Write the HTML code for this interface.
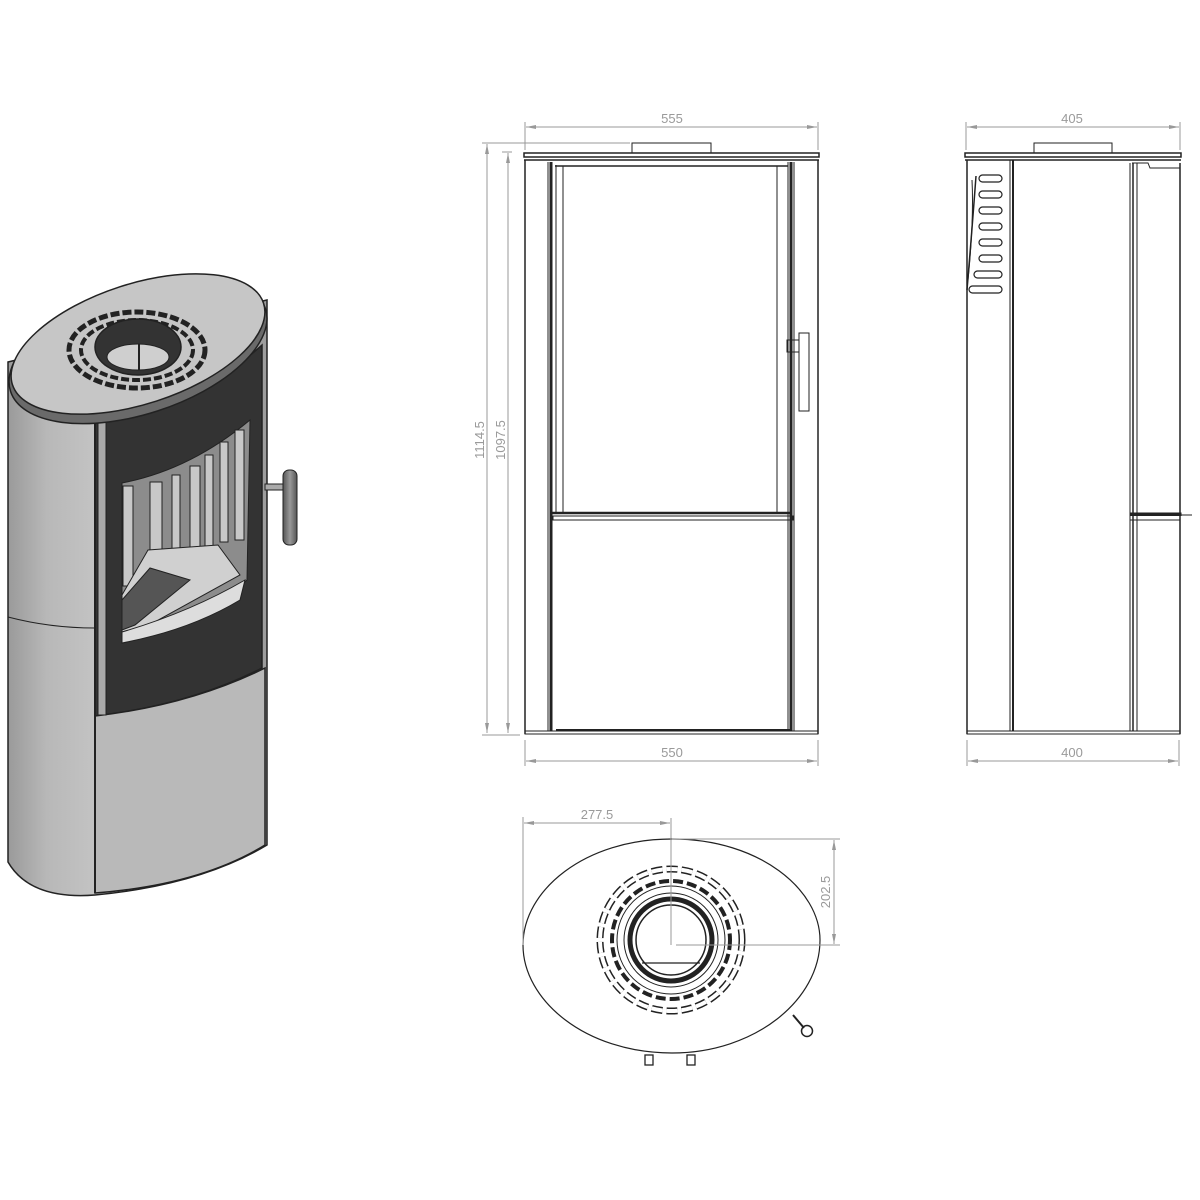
<!DOCTYPE html>
<html><head><meta charset="utf-8"><style>
html,body{margin:0;padding:0;background:#fff}
svg{display:block}
text{font-family:"Liberation Sans",sans-serif;fill:#9a9a9a;font-size:13px}
</style></head><body>
<svg width="1200" height="1200" viewBox="0 0 1200 1200" xmlns="http://www.w3.org/2000/svg">
<defs>
<linearGradient id="cyl" x1="0" x2="1" y1="0" y2="0">
<stop offset="0" stop-color="#9a9a9a"/><stop offset="0.15" stop-color="#b8b8b8"/><stop offset="0.35" stop-color="#c4c4c4"/><stop offset="0.7" stop-color="#bdbdbd"/><stop offset="1" stop-color="#9c9c9c"/>
</linearGradient>
<linearGradient id="handle" x1="0" x2="1"><stop offset="0" stop-color="#555"/><stop offset="0.5" stop-color="#999"/><stop offset="1" stop-color="#555"/></linearGradient>
<marker id="ar" viewBox="0 0 10 6" refX="10" refY="3" markerWidth="10" markerHeight="6" orient="auto-start-reverse"><path d="M0,1 L10,3 L0,5z" fill="#999"/></marker>
</defs>

<!-- ===== Isometric view ===== -->
<g stroke="#222" stroke-width="1.5">
<path d="M8,362 L8,862 Q30,900 95,895 Q200,885 267,845 L267,300 Z" fill="url(#cyl)"/>
<path d="M95,420 Q190,410 262,345 L262,668 Q190,705 95,716 Z" fill="#333"/>
<path d="M95,716 Q190,705 265,668 L265,845 Q200,885 95,893 Z" fill="#b9b9b9"/>
<line x1="95" y1="410" x2="95" y2="893" stroke-width="2"/>
<path d="M8,617 Q50,628 95,628" fill="none" stroke-width="1"/>
<rect x="98" y="418" width="8" height="297" fill="#aaa" stroke-width="1"/>
<path d="M122,483 Q190,470 250,420 L247,580 Q200,625 122,643 Z" fill="#8c8c8c" stroke-width="1"/>
<g fill="#c8c8c8" stroke="#222" stroke-width="1">
<rect x="123" y="486" width="10" height="100"/><rect x="150" y="482" width="12" height="100"/>
<rect x="172" y="475" width="8" height="100"/><rect x="190" y="466" width="10" height="90"/>
<rect x="205" y="455" width="8" height="95"/><rect x="220" y="442" width="8" height="100"/>
<rect x="235" y="430" width="9" height="110"/>
</g>
<path d="M122,595 L148,550 L218,545 L240,575 L122,640 Z" fill="#d0d0d0" stroke-width="1"/>
<path d="M122,600 L150,568 L190,580 L135,625 L122,630 Z" fill="#555" stroke-width="1"/>
<path d="M122,632 Q190,612 245,580 L240,600 Q190,630 122,643 Z" fill="#ddd" stroke-width="1"/>
<ellipse cx="138" cy="350" rx="134" ry="64" transform="rotate(-18 138 350)" fill="#6a6a6a" stroke-width="1.5"/>
<ellipse cx="138" cy="344" rx="132" ry="60" transform="rotate(-18 138 344)" fill="#c6c6c6" stroke-width="1.5"/>
<ellipse cx="137" cy="350" rx="68" ry="38" fill="none" stroke="#222" stroke-width="5" stroke-dasharray="9 3"/>
<ellipse cx="137" cy="350" rx="56" ry="30" fill="none" stroke="#222" stroke-width="4" stroke-dasharray="8 3"/>
<ellipse cx="138" cy="347" rx="43" ry="28" fill="#333"/>
<ellipse cx="138" cy="357" rx="31" ry="13" fill="#cfcfcf" stroke-width="1"/>
<line x1="139" y1="344" x2="139" y2="370" stroke-width="2"/>
<rect x="265" y="484" width="20" height="6" fill="#aaa" stroke-width="1"/>
<rect x="283" y="470" width="14" height="75" rx="6" fill="url(#handle)" stroke-width="1"/>
</g>

<!-- ===== Front view ===== -->
<g stroke="#222" fill="none" stroke-width="1">
<rect x="632" y="143" width="79" height="10"/>
<rect x="524" y="153" width="295" height="4" stroke-width="1.5"/>
<line x1="524" y1="160" x2="819" y2="160" stroke-width="1.5"/>
<line x1="525" y1="160" x2="525" y2="734" stroke-width="1.5"/>
<line x1="818" y1="160" x2="818" y2="734" stroke-width="1.5"/>
<line x1="548" y1="162" x2="548" y2="731"/>
<line x1="551" y1="162" x2="551" y2="731" stroke-width="3"/>
<line x1="556" y1="165" x2="556" y2="513"/>
<line x1="563" y1="166" x2="563" y2="513"/>
<line x1="555" y1="166" x2="788" y2="166" stroke-width="1.5"/>
<line x1="777" y1="166" x2="777" y2="513"/>
<line x1="788" y1="162" x2="788" y2="731"/>
<line x1="791" y1="162" x2="791" y2="731" stroke-width="3"/>
<line x1="794" y1="162" x2="794" y2="731"/>
<line x1="552" y1="513" x2="792" y2="513" stroke-width="2.5"/>
<rect x="553" y="516" width="240" height="4"/>
<line x1="556" y1="730" x2="790" y2="730" stroke-width="2"/>
<rect x="525" y="731" width="293" height="3"/>
<rect x="787" y="340" width="12" height="12"/>
<rect x="799" y="333" width="10" height="78"/>
</g>
<g stroke="#999" stroke-width="1" fill="none">
<line x1="525" y1="122" x2="525" y2="150"/><line x1="818" y1="122" x2="818" y2="150"/>
<line x1="526" y1="127" x2="817" y2="127" marker-start="url(#ar)" marker-end="url(#ar)"/>
<line x1="482" y1="143" x2="630" y2="143"/><line x1="502" y1="152" x2="512" y2="152"/>
<line x1="487" y1="144" x2="487" y2="733" marker-start="url(#ar)" marker-end="url(#ar)"/>
<line x1="508" y1="153" x2="508" y2="733" marker-start="url(#ar)" marker-end="url(#ar)"/>
<line x1="482" y1="735" x2="520" y2="735"/>
<line x1="525" y1="740" x2="525" y2="766"/><line x1="818" y1="740" x2="818" y2="766"/>
<line x1="526" y1="761" x2="817" y2="761" marker-start="url(#ar)" marker-end="url(#ar)"/>
</g>
<text x="672" y="123" text-anchor="middle">555</text>
<text x="672" y="757" text-anchor="middle">550</text>
<text transform="translate(484 440) rotate(-90)" text-anchor="middle">1114.5</text>
<text transform="translate(505 440) rotate(-90)" text-anchor="middle">1097.5</text>

<!-- ===== Side view ===== -->
<g stroke="#222" fill="none" stroke-width="1">
<rect x="1034" y="143" width="78" height="10"/>
<rect x="965" y="153" width="216" height="4" stroke-width="1.5"/>
<line x1="965" y1="160" x2="1181" y2="160" stroke-width="1.5"/>
<line x1="967" y1="160" x2="967" y2="734" stroke-width="1.5"/>
<line x1="1010" y1="160" x2="1010" y2="731"/>
<line x1="1013" y1="160" x2="1013" y2="731" stroke-width="2"/>
<line x1="1130" y1="163" x2="1130" y2="731"/>
<line x1="1133" y1="163" x2="1133" y2="731" stroke-width="1.5"/>
<line x1="1137" y1="163" x2="1137" y2="731"/>
<line x1="1180" y1="163" x2="1180" y2="734" stroke-width="1.5"/>
<path d="M1132,163 L1148,163 L1150,168 L1180,168"/>
<rect x="1131" y="513" width="50" height="2.5" fill="#222"/>
<line x1="1181" y1="515" x2="1192" y2="515"/>
<line x1="1130" y1="520" x2="1180" y2="520"/>
<rect x="967" y="731" width="213" height="3"/>
<path d="M976,176 Q972,230 967,290" stroke-width="1.5"/>
<path d="M972,180 Q974,220 968,280"/>
<g stroke-width="1.2">
<rect x="979" y="175" width="23" height="7" rx="3.5"/>
<rect x="979" y="191" width="23" height="7" rx="3.5"/>
<rect x="979" y="207" width="23" height="7" rx="3.5"/>
<rect x="979" y="223" width="23" height="7" rx="3.5"/>
<rect x="979" y="239" width="23" height="7" rx="3.5"/>
<rect x="979" y="255" width="23" height="7" rx="3.5"/>
<rect x="974" y="271" width="28" height="7" rx="3.5"/>
<rect x="969" y="286" width="33" height="7" rx="3.5"/>
</g>
</g>
<g stroke="#999" stroke-width="1" fill="none">
<line x1="966" y1="122" x2="966" y2="150"/><line x1="1180" y1="122" x2="1180" y2="150"/>
<line x1="967" y1="127" x2="1179" y2="127" marker-start="url(#ar)" marker-end="url(#ar)"/>
<line x1="967" y1="740" x2="967" y2="766"/><line x1="1179" y1="740" x2="1179" y2="766"/>
<line x1="968" y1="761" x2="1178" y2="761" marker-start="url(#ar)" marker-end="url(#ar)"/>
</g>
<text x="1072" y="123" text-anchor="middle">405</text>
<text x="1072" y="757" text-anchor="middle">400</text>

<!-- ===== Top view ===== -->
<g stroke="#222" fill="none" stroke-width="1">
<path d="M672,839 C760,839 820,890 820,940 C820,1000 755,1053 672,1053 C585,1053 523,1000 523,945 C523,890 585,839 672,839 Z" stroke-width="1.2"/>
<circle cx="671" cy="940" r="71" stroke-width="7" stroke-dasharray="11 4"/>
<circle cx="671" cy="940" r="71" stroke="#fff" stroke-width="4" stroke-dasharray="11 4"/>
<circle cx="671" cy="940" r="59" stroke-width="4" stroke-dasharray="10 4"/>
<circle cx="671" cy="940" r="54"/>
<circle cx="671" cy="940" r="47"/>
<circle cx="671" cy="940" r="41" stroke-width="5"/>
<circle cx="671" cy="940" r="35" stroke-width="1.5"/>
<line x1="642" y1="963" x2="700" y2="963" stroke-width="1.3"/>
<line x1="793" y1="1015" x2="804" y2="1028" stroke-width="2"/>
<circle cx="807" cy="1031" r="5.5" stroke-width="1.5"/>
<rect x="645" y="1055" width="8" height="10" stroke-width="1.3"/>
<rect x="687" y="1055" width="8" height="10" stroke-width="1.3"/>
</g>
<g stroke="#999" stroke-width="1" fill="none">
<line x1="523" y1="817" x2="523" y2="945"/>
<line x1="524" y1="823" x2="670" y2="823" marker-start="url(#ar)" marker-end="url(#ar)"/>
<line x1="671" y1="818" x2="671" y2="945"/>
<line x1="676" y1="945" x2="840" y2="945"/>
<line x1="672" y1="839" x2="840" y2="839"/>
<line x1="834" y1="840" x2="834" y2="944" marker-start="url(#ar)" marker-end="url(#ar)"/>
</g>
<text x="597" y="819" text-anchor="middle">277.5</text>
<text transform="translate(830 892) rotate(-90)" text-anchor="middle">202.5</text>
</svg>
</body></html>
